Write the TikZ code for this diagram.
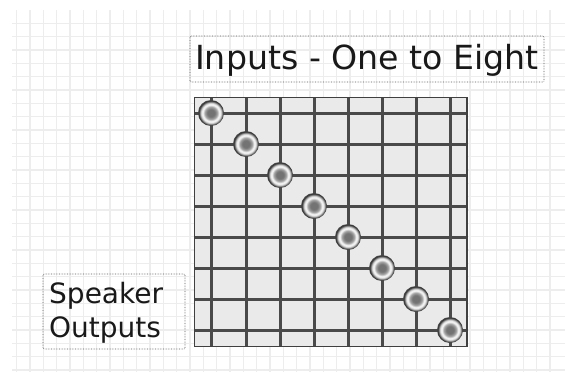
\documentclass[tikz,border=0pt]{standalone}
\usepackage{fontspec}
\setmainfont{DejaVu Sans}
\definecolor{gridc}{HTML}{EDEDED}
\definecolor{barc}{HTML}{4A4A4A}
\definecolor{panelc}{HTML}{EAEAEA}
\pgfdeclareradialshading{knobsh}{\pgfpoint{0bp}{0bp}}{
  color(0bp)=(black!55);color(7bp)=(black!55);color(12bp)=(black!35);
  color(15.5bp)=(black!5);color(18.5bp)=(black!8);color(21bp)=(black!40);
  color(23bp)=(black!80);color(25bp)=(black!72);color(50bp)=(black!72)}
\tikzset{
  gridline/.style={draw=gridc,line width=1.3pt},
  bar/.style={draw=barc,line width=3pt},
  labelbox/.style={draw=black!65,densely dotted,line width=0.6pt,rounded corners=1pt},
  labeltext/.style={inner sep=0pt,anchor=west,align=left,text=black!90},
  knob/.style={circle,minimum size=26pt,inner sep=0pt,shading=knobsh},
}
\begin{document}
\begin{tikzpicture}[x=1pt,y=-1pt]
\useasboundingbox (0,0) rectangle (565,372);
% background grid
\fill[white] (0,0) rectangle (565,372);
\foreach \k in {0,...,40} {
  \pgfmathsetmacro{\xx}{16.7+13.333*\k}
  \draw[gridline] (\xx,10) -- (\xx,372);
}
\foreach \k in {1,...,27} {
  \pgfmathsetmacro{\yy}{10+13.333*\k}
  \draw[gridline] (12,\yy) -- (565,\yy);
}
% labels
\node[labeltext,font=\fontsize{33.2}{38}\selectfont] (inputs) at (195,60.5) {Inputs - One to Eight};
\draw[labelbox] (190,36) rectangle (544,82);
\node[labeltext,font=\fontsize{28}{33.5}\selectfont] (speaker) at (49,313) {Speaker\\Outputs};
\draw[labelbox] (43,274) rectangle (185,349);
% matrix
\fill[panelc] (194.5,97.5) rectangle (467,346.5);
\foreach \x in {211,246,280,314,348,382,416,450} \draw[bar] (\x,97) -- (\x,347);
\foreach \y in {113,144,175,206,237,268,299,330} \draw[bar] (194,\y) -- (467,\y);
\draw[draw=black!75,line width=1.2pt] (194.5,97.5) rectangle (467,346.5);
% knobs
\foreach \n/\x/\y in {a/211/113,b/246/144,c/280/175,d/314/206,e/348/237,f/382/268,g/416/299,h/450/330}
  \node[knob] (\n) at (\x,\y) {};
\end{tikzpicture}
\end{document}
